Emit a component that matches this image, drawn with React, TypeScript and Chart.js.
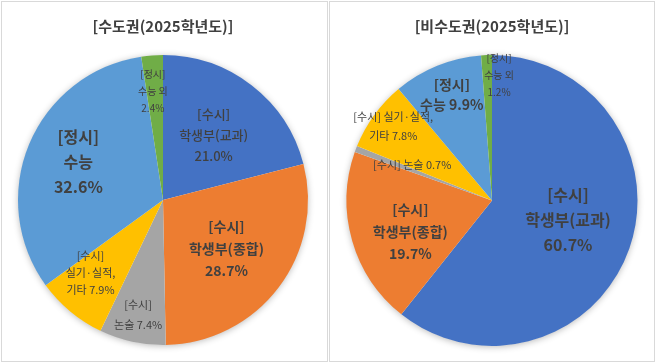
import React, { useEffect, useRef } from 'react';
import { Chart, registerables } from 'chart.js';

Chart.register(...registerables);

// ---- data ----
const categories = [
  '[수시] 학생부(교과)',
  '[수시] 학생부(종합)',
  '[수시] 논술',
  '[수시] 실기·실적, 기타',
  '[정시] 수능',
  '[정시] 수능 외',
];
const capitalTitle = '[수도권(2025학년도)]';
const capitalValues = [21.0, 28.7, 7.4, 7.9, 32.6, 2.4];
const nonCapitalTitle = '[비수도권(2025학년도)]';
const nonCapitalValues = [60.7, 19.7, 0.7, 7.8, 9.9, 1.2];

// label text templates ({v} = value)
const capitalLabelLines = [
  ['[수시]', '학생부(교과)', '{v}'],
  ['[수시]', '학생부(종합)', '{v}'],
  ['[수시]', '논술 {v}'],
  ['[수시]', '실기·실적,', '기타 {v}'],
  ['[정시]', '수능', '{v}'],
  ['[정시]', '수능 외', '{v}'],
];
const nonCapitalLabelLines = [
  ['[수시]', '학생부(교과)', '{v}'],
  ['[수시]', '학생부(종합)', '{v}'],
  ['[수시] 논술 {v}'],
  ['[수시] 실기·실적,', '기타 {v}'],
  ['[정시]', '수능 {v}'],
  ['[정시]', '수능 외', '{v}'],
];

// ---- styles ----
const sliceColors = ['#4472C4', '#ED7D31', '#A5A5A5', '#FFC000', '#5B9BD5', '#70AD47'];
const FONT = '"Noto Sans CJK KR", "Noto Sans", sans-serif';

type LabelStyle = { frac: number; turn: number; size: number; weight: string; gap: number };

const capitalLabelStyles: LabelStyle[] = [
  { frac: 0.57, turn: 0, size: 13, weight: '500', gap: 21 },
  { frac: 0.55, turn: 0, size: 14, weight: '600', gap: 22 },
  { frac: 0.81, turn: 0, size: 11, weight: '400', gap: 20 },
  { frac: 0.71, turn: 5, size: 11, weight: '400', gap: 17 },
  { frac: 0.64, turn: 1.5, size: 16, weight: '700', gap: 25 },
  { frac: 0.755, turn: -1, size: 10, weight: '400', gap: 17 },
];
const nonCapitalLabelStyles: LabelStyle[] = [
  { frac: 0.54, turn: -4.6, size: 16, weight: '700', gap: 25 },
  { frac: 0.6, turn: -4.7, size: 14, weight: '600', gap: 22 },
  { frac: 0.6, turn: 3.2, size: 11, weight: '400', gap: 20 },
  { frac: 0.85, turn: 1, size: 11, weight: '400', gap: 19 },
  { frac: 0.78, turn: 1.4, size: 14, weight: '700', gap: 20 },
  { frac: 0.86, turn: 5.4, size: 10, weight: '400', gap: 17 },
];

function makeLabelPlugin(templates: string[][], styles: LabelStyle[]) {
  return {
    id: 'sliceLabels',
    beforeDatasetsDraw(chart: any) {
      const meta = chart.getDatasetMeta(0);
      const a0 = meta.data[0];
      if (!a0) return;
      const { x, y, outerRadius } = a0.getProps(['x', 'y', 'outerRadius'], true);
      const ctx = chart.ctx;
      ctx.save();
      ctx.shadowColor = 'rgba(0,0,0,0.3)';
      ctx.shadowBlur = 7;
      ctx.shadowOffsetX = 0;
      ctx.shadowOffsetY = 1;
      ctx.beginPath();
      ctx.arc(x, y, outerRadius - 0.5, 0, Math.PI * 2);
      ctx.fillStyle = '#ffffff';
      ctx.fill();
      ctx.restore();
    },
    afterDatasetsDraw(chart: any) {
      const ctx = chart.ctx;
      const meta = chart.getDatasetMeta(0);
      const values = chart.data.datasets[0].data as number[];
      meta.data.forEach((arc: any, i: number) => {
        const { x, y, startAngle, endAngle, outerRadius } = arc.getProps(
          ['x', 'y', 'startAngle', 'endAngle', 'outerRadius'],
          true
        );
        const st = styles[i];
        const mid = (startAngle + endAngle) / 2 + (st.turn * Math.PI) / 180;
        const r = outerRadius * st.frac;
        const cx = x + Math.cos(mid) * r;
        const cy = y + Math.sin(mid) * r;
        const lines = templates[i].map((t) => t.replace('{v}', values[i].toFixed(1) + '%'));
        ctx.save();
        ctx.font = `${st.weight} ${st.size}px ${FONT}`;
        ctx.fillStyle = '#404040';
        ctx.textAlign = 'center';
        ctx.textBaseline = 'middle';
        const n = lines.length;
        lines.forEach((ln, k) => ctx.fillText(ln, cx, cy + (k - (n - 1) / 2) * st.gap));
        ctx.restore();
      });
    },
  };
}

type PieProps = {
  title: string;
  values: number[];
  templates: string[][];
  styles: LabelStyle[];
  left: number;
  width: number;
  padding: { top: number; bottom: number; left: number; right: number };
};

function PieBox({ title, values, templates, styles, left, width, padding }: PieProps) {
  const ref = useRef<HTMLCanvasElement>(null);
  const innerW = width - 2;
  const innerH = 359;
  useEffect(() => {
    if (!ref.current) return;
    const chart = new Chart(ref.current, {
      type: 'pie',
      data: {
        labels: categories,
        datasets: [
          {
            data: values,
            backgroundColor: sliceColors,
            borderWidth: 0,
          },
        ],
      },
      options: {
        responsive: false,
        animation: false,
        layout: { padding },
        plugins: {
          legend: { display: false },
          tooltip: { enabled: false },
          title: {
            display: true,
            text: title,
            color: '#404040',
            font: { family: FONT, size: 15, weight: 'bold', lineHeight: 1.2 },
            padding: { top: 15, bottom: 20 },
          },
        },
      },
      plugins: [makeLabelPlugin(templates, styles)],
    } as any);
    return () => chart.destroy();
  }, []);
  return (
    <div
      style={{
        position: 'absolute',
        left,
        top: 1,
        width,
        height: 361,
        boxSizing: 'border-box',
        border: '1px solid #d9d9d9',
        background: '#fff',
      }}
    >
      <canvas ref={ref} width={innerW} height={innerH} style={{ display: 'block', width: innerW, height: innerH }} />
    </div>
  );
}

export default function App() {
  return (
    <div style={{ position: 'fixed', left: 0, top: 0, width: 656, height: 363, background: '#fff' }}>
      <PieBox
        title={capitalTitle}
        values={capitalValues}
        templates={capitalLabelLines}
        styles={capitalLabelStyles}
        left={1}
        width={327}
        padding={{ top: 0, bottom: 16, left: 0, right: 3 }}
      />
      <PieBox
        title={nonCapitalTitle}
        values={nonCapitalValues}
        templates={nonCapitalLabelLines}
        styles={nonCapitalLabelStyles}
        left={329}
        width={326}
        padding={{ top: 0, bottom: 15, left: 0, right: 0 }}
      />
    </div>
  );
}
